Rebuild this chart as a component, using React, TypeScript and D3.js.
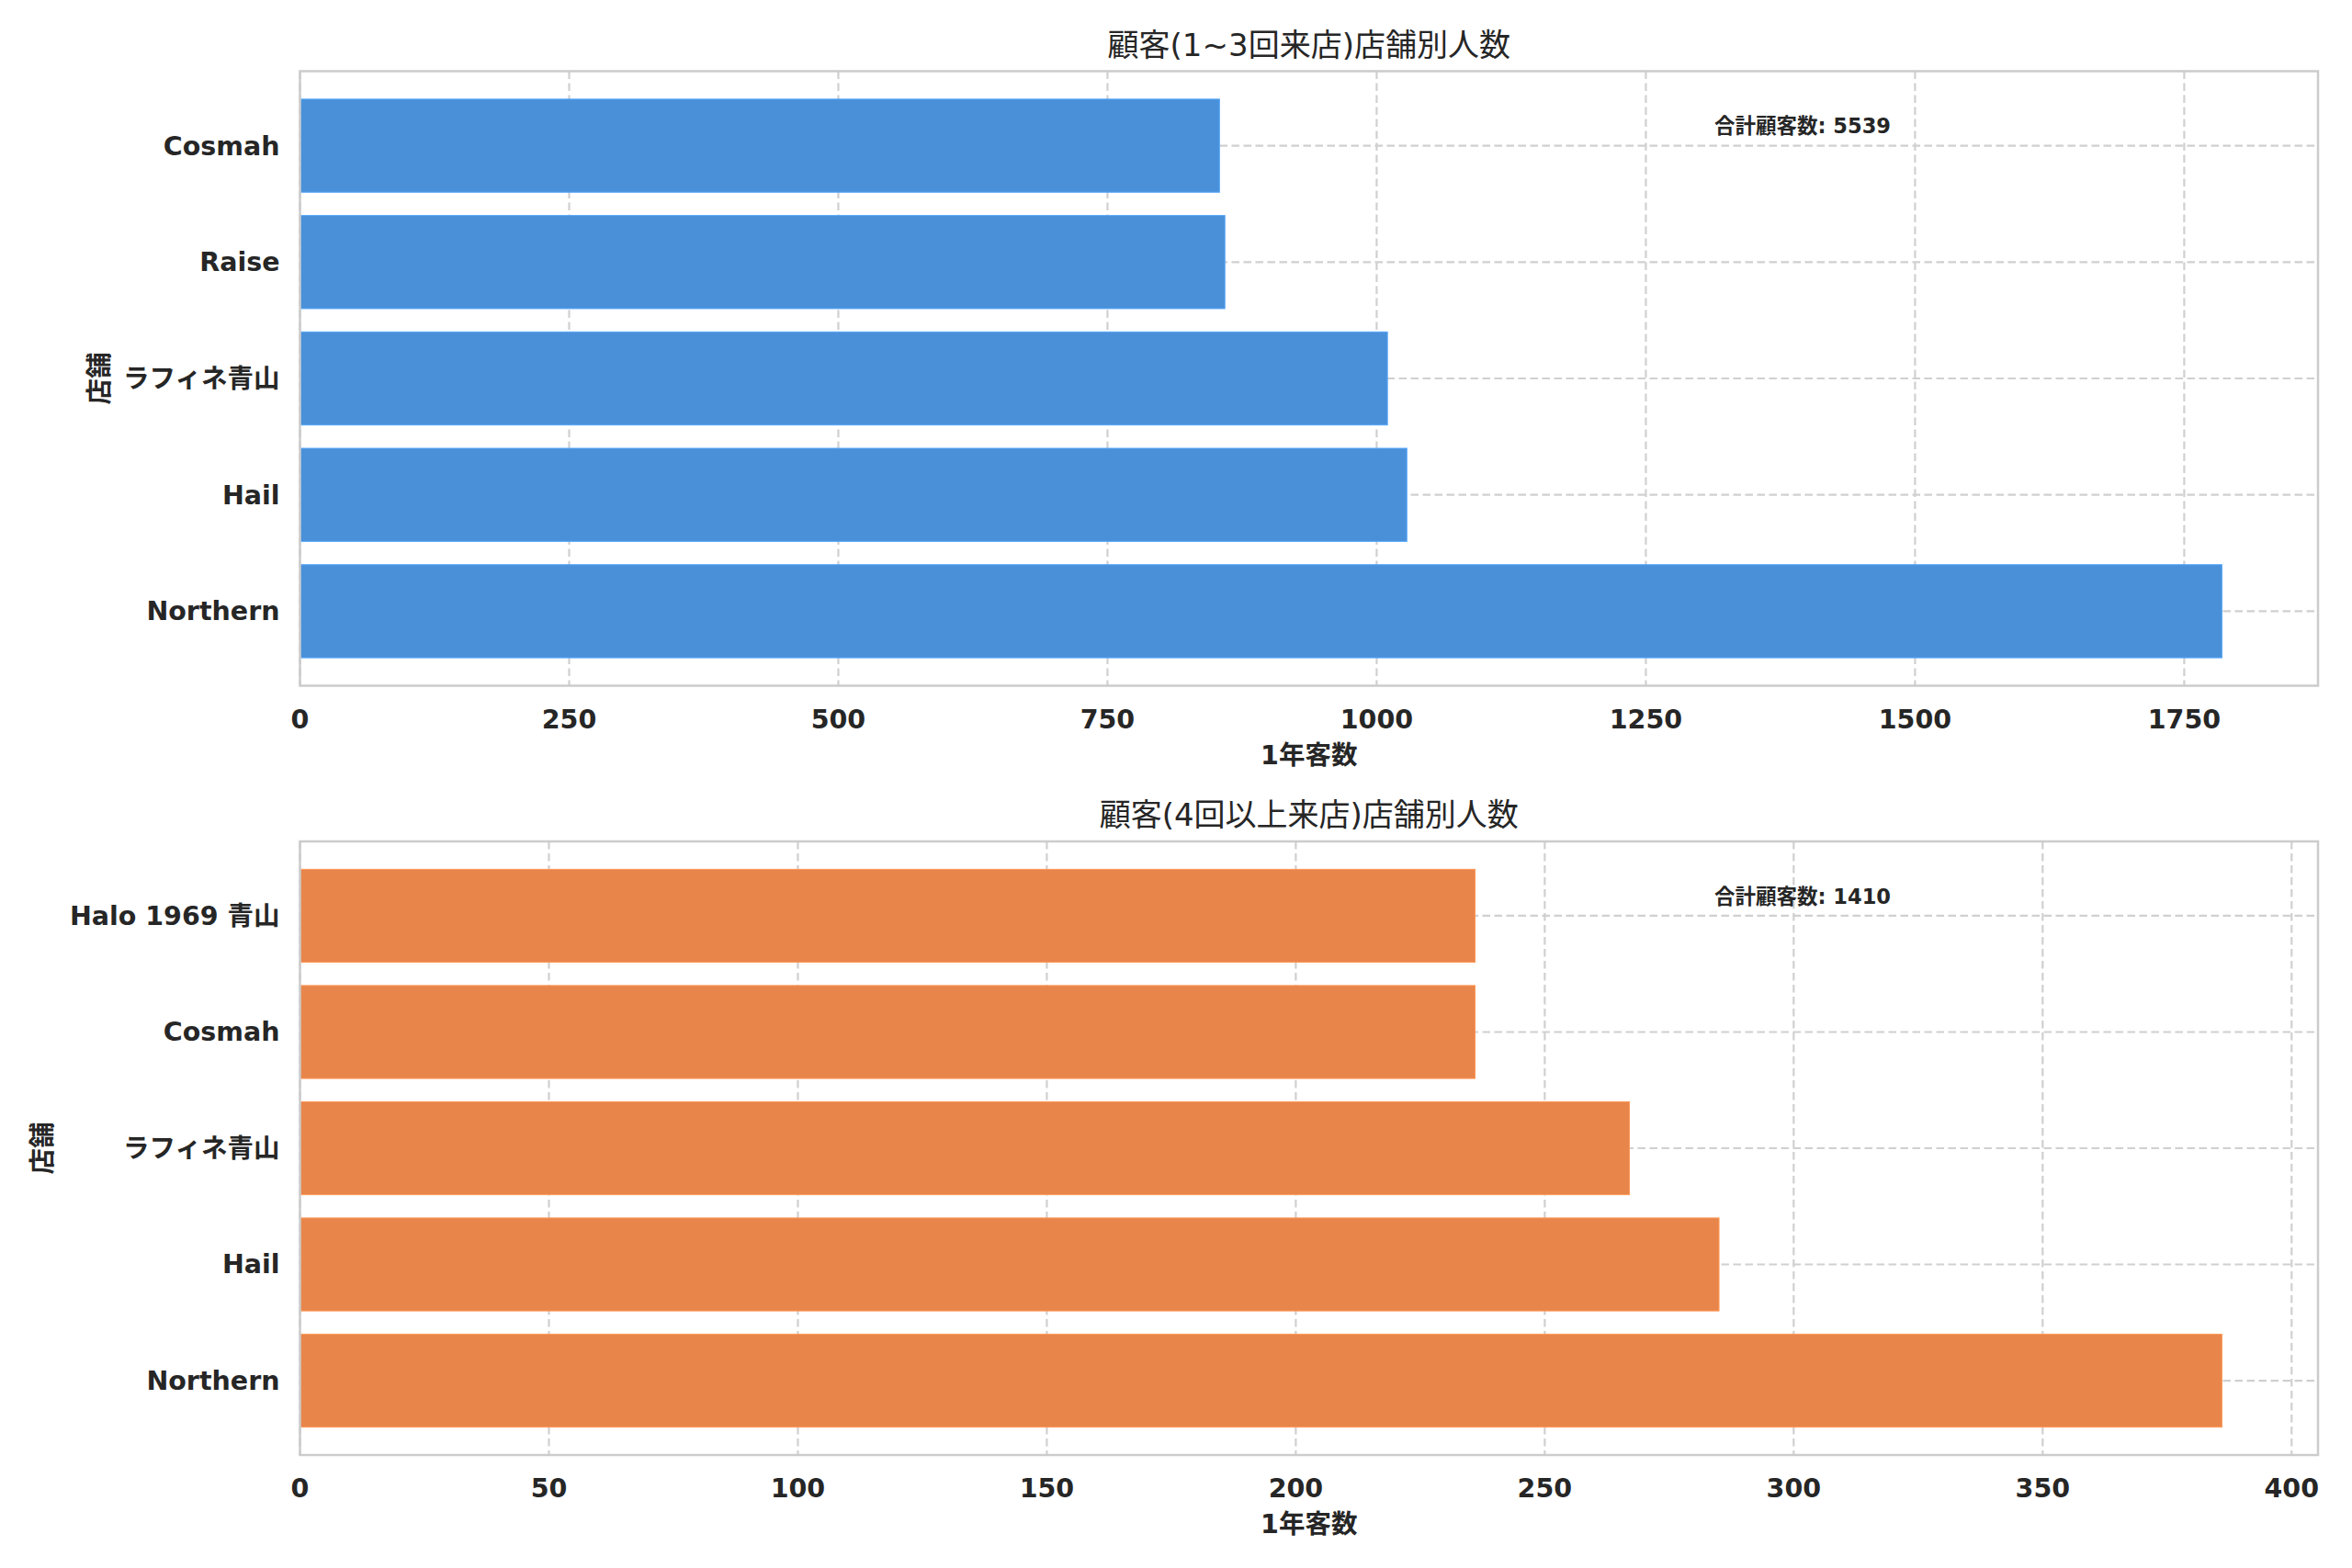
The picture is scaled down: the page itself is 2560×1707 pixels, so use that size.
import React, {useEffect, useRef} from 'react'
import * as d3 from 'd3'

// categories listed bottom -> top, as matplotlib barh draws them
const shortCategories = ['Northern', 'Hail', 'ラフィネ青山', 'Raise', 'Cosmah']
const shortValues = [1785, 1028, 1010, 859, 854]
const shortTicks = [0, 250, 500, 750, 1000, 1250, 1500, 1750]
const shortTotal = 5539

const longCategories = ['Northern', 'Hail', 'ラフィネ青山', 'Cosmah', 'Halo 1969 青山']
const longValues = [386, 285, 267, 236, 236]
const longTicks = [0, 50, 100, 150, 200, 250, 300, 350, 400]
const longTotal = 1410

const titles = ['顧客(1~3回来店)店舗別人数', '顧客(4回以上来店)店舗別人数']
const xLabel = '1年客数'
const yLabel = '店舗'
const totalLabel = '合計顧客数'

const W = 2560
const H = 1707
const left = 326.5
const right = 2523
const fontFamily = '"DejaVu Sans", "Noto Sans CJK JP", sans-serif'
const textColor = '#262626'
const gridColor = '#d0d0d0'

interface Panel {
  cats: string[], vals: number[], ticks: number[], total: number,
  title: string, color: string, top: number, bottom: number, ylabelX: number
}

const panels: Panel[] = [
  {cats: shortCategories, vals: shortValues, ticks: shortTicks, total: shortTotal,
    title: titles[0], color: '#4a90d9', top: 77.5, bottom: 746.5, ylabelX: 108},
  {cats: longCategories, vals: longValues, ticks: longTicks, total: longTotal,
    title: titles[1], color: '#e8854b', top: 916, bottom: 1584, ylabelX: 46},
]

function drawPanel(svg: d3.Selection<SVGSVGElement, unknown, null, undefined>, p: Panel) {
  const g = svg.append('g')
  const x = d3.scaleLinear().domain([0, d3.max(p.vals)! * 1.05]).range([left, right])
  // bar height 0.8 plus 5% margins, like matplotlib
  const y = d3.scaleLinear().domain([-0.64, p.cats.length - 1 + 0.64]).range([p.bottom, p.top])

  // grid
  g.selectAll('line.vgrid')
    .data(p.ticks)
    .enter()
    .append('line')
    .attr('x1', d => x(d)).attr('x2', d => x(d))
    .attr('y1', p.top).attr('y2', p.bottom)
    .attr('stroke', gridColor).attr('stroke-width', 2.2)
    .attr('stroke-dasharray', '8.5,4.5')
  g.selectAll('line.hgrid')
    .data(p.cats)
    .enter()
    .append('line')
    .attr('x1', left).attr('x2', right)
    .attr('y1', (d, i) => y(i)).attr('y2', (d, i) => y(i))
    .attr('stroke', gridColor).attr('stroke-width', 2.2)
    .attr('stroke-dasharray', '8.5,4.5')

  // bars
  g.selectAll('rect.bar')
    .data(p.vals)
    .enter()
    .append('rect')
    .attr('x', x(0))
    .attr('y', (d, i) => y(i + 0.4))
    .attr('width', d => x(d) - x(0))
    .attr('height', (d, i) => y(i - 0.4) - y(i + 0.4))
    .attr('fill', p.color)
    .attr('stroke', d3.color(p.color)!.brighter(0.4).formatHex())
    .attr('stroke-width', 1)

  // frame
  g.append('rect')
    .attr('x', left).attr('y', p.top)
    .attr('width', right - left).attr('height', p.bottom - p.top)
    .attr('fill', 'none').attr('stroke', '#cccccc').attr('stroke-width', 2.5)

  // x tick labels
  g.selectAll('text.xtick')
    .data(p.ticks)
    .enter()
    .append('text')
    .text(d => d)
    .attr('x', d => x(d))
    .attr('y', p.bottom + 46)
    .attr('text-anchor', 'middle')
    .attr('font-size', 28.5)
    .attr('font-weight', 'bold')
    .attr('fill', textColor)

  // y tick labels
  g.selectAll('text.ytick')
    .data(p.cats)
    .enter()
    .append('text')
    .text(d => d)
    .attr('x', left - 22)
    .attr('y', (d, i) => y(i))
    .attr('dy', '0.35em')
    .attr('text-anchor', 'end')
    .attr('font-size', 28.5)
    .attr('font-weight', 'bold')
    .attr('fill', textColor)

  g.append('text')
    .text(xLabel)
    .attr('x', (left + right) / 2)
    .attr('y', p.bottom + 85)
    .attr('text-anchor', 'middle')
    .attr('font-size', 28.5)
    .attr('font-weight', 'bold')
    .attr('fill', textColor)

  g.append('text')
    .text(yLabel)
    .attr('transform', 'translate(' + p.ylabelX + ',' + (p.top + p.bottom) / 2 + ') rotate(-90)')
    .attr('dy', '0.35em')
    .attr('text-anchor', 'middle')
    .attr('font-size', 28.5)
    .attr('font-weight', 'bold')
    .attr('fill', textColor)

  g.append('text')
    .text(p.title)
    .attr('x', (left + right) / 2)
    .attr('y', p.top - 17)
    .attr('text-anchor', 'middle')
    .attr('font-size', 34)
    .attr('fill', textColor)

  g.append('text')
    .text(totalLabel + ': ' + p.total)
    .attr('x', 1962)
    .attr('y', p.top + 60)
    .attr('dy', '0.35em')
    .attr('text-anchor', 'middle')
    .attr('font-size', 22.5)
    .attr('font-weight', 'bold')
    .attr('fill', textColor)
}

export default function App() {
  const ref = useRef<SVGSVGElement>(null)

  useEffect(() => {
    if (!ref.current) return
    const svg = d3.select(ref.current)
    svg.selectAll('*').remove()
    svg.append('rect').attr('width', W).attr('height', H).attr('fill', 'white')
    panels.forEach(p => drawPanel(svg, p))
  }, [])

  return (
    <svg
      ref={ref}
      width={W}
      height={H}
      style={{position: 'absolute', left: 0, top: 0, fontFamily: fontFamily}}
    />
  )
}
